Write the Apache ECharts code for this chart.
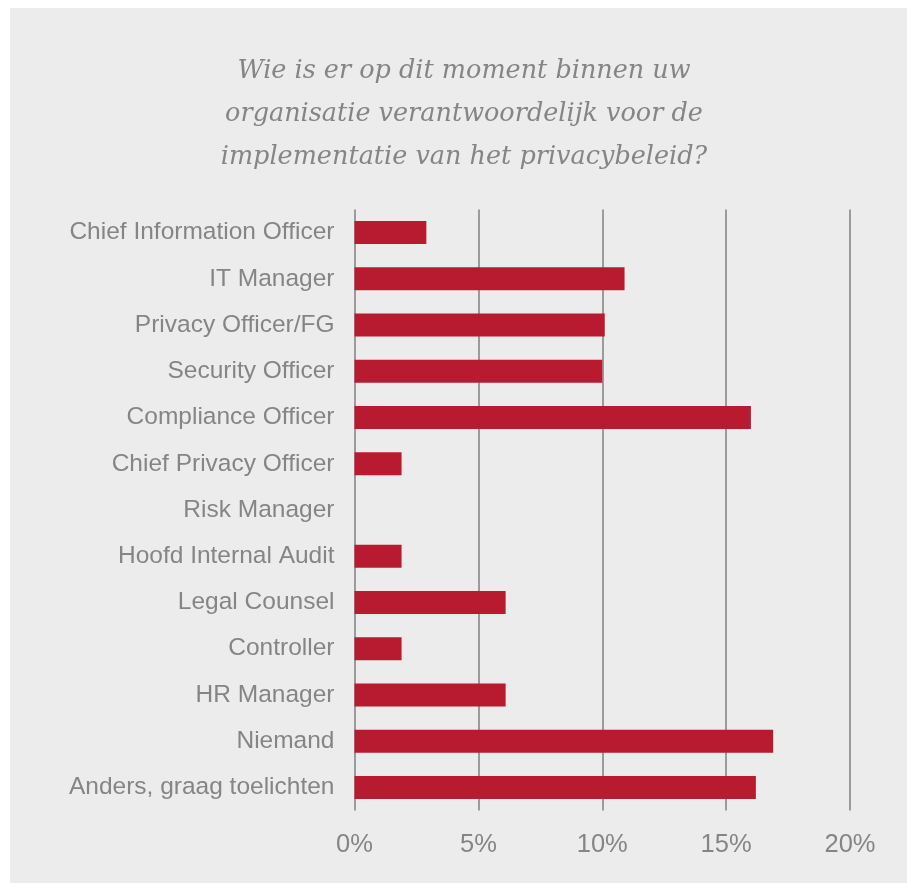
<!DOCTYPE html>
<html>
<head>
<meta charset="utf-8">
<script src="https://cdn.jsdelivr.net/npm/echarts@6/dist/echarts.min.js"></script>
<style>
  html, body { margin: 0; padding: 0; background: #ffffff; }
  #chart { width: 907px; height: 883px; }
</style>
</head>
<body>
<div id="chart"></div>
<script>
// Who is responsible for privacy-policy implementation (share of respondents, %)
const roles = [
  'Chief Information Officer',
  'IT Manager',
  'Privacy Officer/FG',
  'Security Officer',
  'Compliance Officer',
  'Chief Privacy Officer',
  'Risk Manager',
  'Hoofd Internal Audit',
  'Legal Counsel',
  'Controller',
  'HR Manager',
  'Niemand',
  'Anders, graag toelichten'
];
const shares = [2.9, 10.9, 10.1, 10.0, 16.0, 1.9, 0, 1.9, 6.1, 1.9, 6.1, 16.9, 16.2];
const axisMin = 0;
const axisMax = 20;
const axisStep = 5;
const titleLines = [
  'Wie is er op dit moment binnen uw',
  'organisatie verantwoordelijk voor de',
  'implementatie van het privacybeleid?'
];

const chart = echarts.init(document.getElementById('chart'), null, { renderer: 'canvas' });

const textGray = '#858585';
const gridGray = '#9b9b9b';

// Centred italic heading, one text element per line
const titleGraphics = titleLines.map((line, i) => ({
  type: 'text',
  z: 10,
  silent: true,
  style: {
    x: 464,
    y: 71 + i * 43,
    text: line,
    fill: textGray,
    font: 'italic 25.5px "DejaVu Serif", serif',
    align: 'center',
    verticalAlign: 'middle'
  }
}));

chart.setOption({
  backgroundColor: '#ffffff',
  animation: false,
  graphic: [
    {
      type: 'rect',
      z: -10,
      silent: true,
      shape: { x: 10, y: 8, width: 897, height: 875 },
      style: { fill: '#ebeceb' }
    }
  ].concat(titleGraphics),
  grid: { left: 354.5, right: 57, top: 209.4, bottom: 72.4, containLabel: false },
  xAxis: {
    type: 'value',
    min: axisMin,
    max: axisMax,
    interval: axisStep,
    axisLine: { show: false },
    axisTick: { show: false },
    splitLine: { show: true, lineStyle: { color: gridGray, width: 2 } },
    axisLabel: {
      formatter: '{value}%',
      color: textGray,
      fontSize: 25.5,
      fontFamily: '"Liberation Sans", Arial, sans-serif',
      margin: 21
    }
  },
  yAxis: {
    type: 'category',
    data: roles,
    inverse: true,
    axisLine: { show: false },
    axisTick: { show: false },
    splitLine: { show: false },
    axisLabel: {
      color: textGray,
      fontSize: 24.5,
      fontFamily: '"Liberation Sans", Arial, sans-serif',
      margin: 20
    }
  },
  series: [
    {
      type: 'bar',
      data: shares,
      barWidth: 23,
      itemStyle: { color: '#b81b30' },
      silent: true
    }
  ]
});
</script>
</body>
</html>
